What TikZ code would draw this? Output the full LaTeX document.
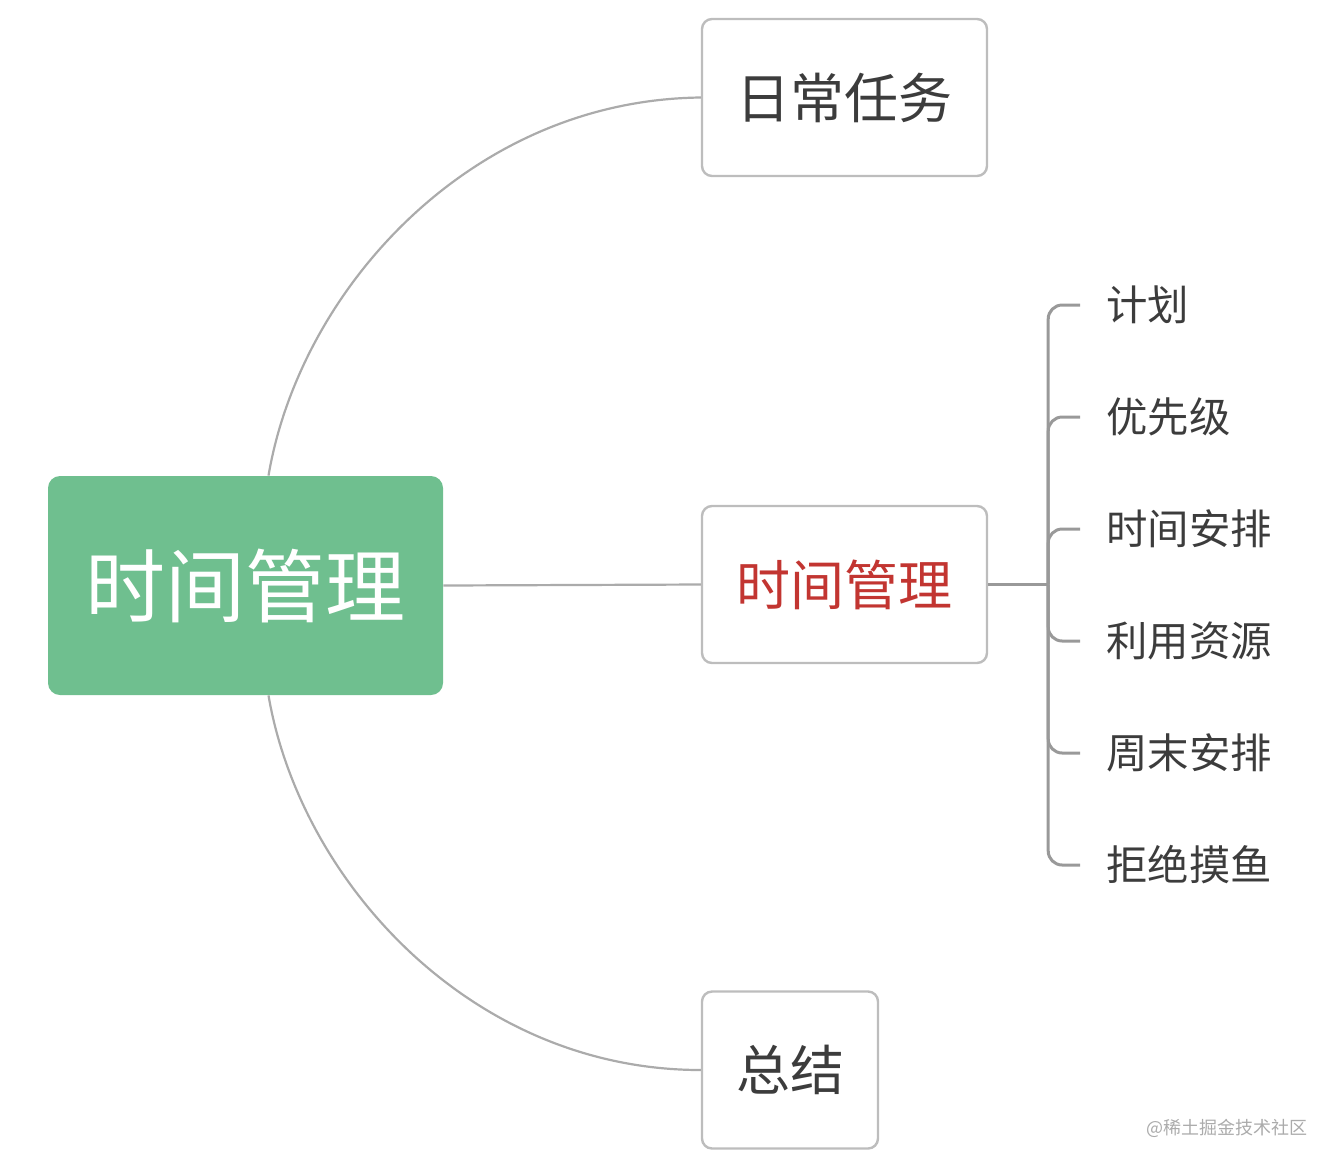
\documentclass[tikz,border=0pt]{standalone}
\usepackage{fontspec}
\usepackage{tikz}
\usetikzlibrary{positioning}
\newfontfamily\cjk{Noto Sans CJK SC}
\definecolor{rootgreen}{HTML}{6FBF8F}
\definecolor{boxgray}{HTML}{BDBDBD}
\definecolor{linegray}{HTML}{ABABAB}
\definecolor{bracegray}{HTML}{999999}
\definecolor{txtgray}{HTML}{3C3C3C}
\definecolor{topicred}{HTML}{C23531}

\begin{document}
\begin{tikzpicture}[
x=0.5pt, y=-0.5pt,
rootbox/.style={
fill=rootgreen,
rounded corners=6pt,
minimum width=197.5pt,
minimum height=109.5pt,
text=white,
font=\cjk\fontsize{40pt}{40pt}\selectfont
},
topicbox/.style={
draw=boxgray,
line width=1.2pt,
fill=white,
rounded corners=5pt,
minimum width=142.5pt,
minimum height=78.5pt,
text=txtgray,
font=\cjk\fontsize{27pt}{27pt}\selectfont
},
leaf/.style={
anchor=west,
inner xsep=13pt,
text=txtgray,
font=\cjk\fontsize{20.7pt}{20.7pt}\selectfont
},
curve/.style={draw=linegray, line width=1.1pt},
brace/.style={draw=bracegray, line width=1.5pt, rounded corners=7pt}
]
\useasboundingbox (0,0) rectangle (1336,1168);

% root and topics
\node[rootbox] (root) at (245.5,585.5) {时间管理};

\node[topicbox] (daily) at (844.5,97.5) {日常任务};

\node[topicbox, text=topicred] (manage) at (844.5,584.5) {时间管理};

\node[topicbox, minimum width=88pt] (summary) at (790,1070) {总结};

% connectors from root
\draw[curve] ([xshift=11.5pt]root.north) .. controls (300,290) and (470,100) .. (daily.west);

\draw[curve] ([xshift=11.5pt]root.south) .. controls (300,880) and (470,1070) .. (summary.west);

\draw[curve] (root.east) -- (manage.west);

% sub points
\foreach \t [count=\i] in {计划,优先级,时间安排,利用资源,周末安排,拒绝摸鱼}
\node[leaf] (leaf\i) at (1080,305+112*\i-112) {\t};

\draw[brace] (manage.east) -- ++(60,0) coordinate (fork);

\foreach \i in {1,...,6}
\draw[brace] (fork) |- (leaf\i.west);

% watermark
\node[text=linegray, font=\cjk\fontsize{9pt}{9pt}\selectfont, anchor=east] (mark) at (1315,1128) {@稀土掘金技术社区};

\end{tikzpicture}
\end{document}
